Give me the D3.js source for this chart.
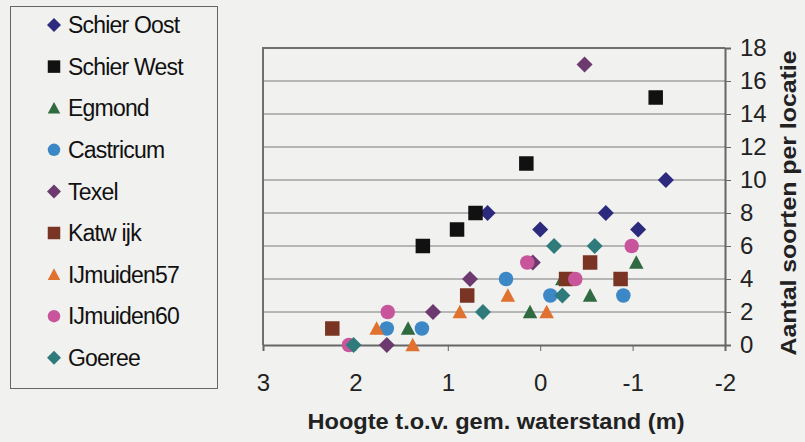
<!DOCTYPE html>
<html>
<head>
<meta charset="utf-8">
<script src="https://cdn.jsdelivr.net/npm/d3@7"></script>
<style>
  body { margin: 0; background: #f1f1f0; }
  svg text { font-family: "Liberation Sans", Arial, Helvetica, sans-serif; }
  .axis path, .axis line { stroke: #666; }
  .axis text { fill: #222; font-size: 24px; }
</style>
</head>
<body>
<div class="chart"></div>
<script>
var svgWidth = 805;
var svgHeight = 442;

// series names, in legend order
var seriesNames = ["Schier Oost", "Schier West", "Egmond", "Castricum", "Texel",
  "Katw ijk", "IJmuiden57", "IJmuiden60", "Goeree"];

// x = hoogte t.o.v. gem. waterstand (m), y = aantal soorten
var schierOostX = [0.57, 0.0, -0.71, -1.06, -1.36];
var schierOostY = [8, 7, 8, 7, 10];
var schierWestX = [1.27, 0.90, 0.70, 0.15, -1.25];
var schierWestY = [6, 7, 8, 11, 15];
var egmondX = [1.43, 0.11, -0.24, -0.54, -1.04];
var egmondY = [1, 2, 4, 3, 5];
var castricumX = [1.66, 1.28, 0.37, -0.11, -0.90];
var castricumY = [1, 1, 4, 3, 3];
var texelX = [1.66, 1.16, 0.76, 0.08, -0.48];
var texelY = [0, 2, 4, 5, 17];
var katwijkX = [2.25, 0.79, -0.28, -0.54, -0.87];
var katwijkY = [1, 3, 4, 5, 4];
var ijmuiden57X = [1.77, 1.38, 0.87, 0.35, -0.07];
var ijmuiden57Y = [1, 0, 2, 3, 2];
var ijmuiden60X = [2.07, 1.65, 0.14, -0.38, -0.99];
var ijmuiden60Y = [0, 2, 5, 4, 6];
var goereeX = [2.02, 0.62, -0.15, -0.24, -0.59];
var goereeY = [0, 2, 6, 3, 6];

var xTicks = [3, 2, 1, 0, -1, -2];
var yTicks = [0, 2, 4, 6, 8, 10, 12, 14, 16, 18];

var shapes = ["diamond", "square", "triangle", "circle", "diamond", "square", "triangle", "circle", "diamond"];
var colors = ["#2b2a7c", "#111111", "#2f6a40", "#3c88c6", "#6c3a6e", "#7a3423", "#e0712e", "#c8559c", "#2f7b7c"];

var xs = [schierOostX, schierWestX, egmondX, castricumX, texelX, katwijkX, ijmuiden57X, ijmuiden60X, goereeX];
var ys = [schierOostY, schierWestY, egmondY, castricumY, texelY, katwijkY, ijmuiden57Y, ijmuiden60Y, goereeY];

var series = seriesNames.map(function(name, i) {
  return {
    name: name, shape: shapes[i], color: colors[i],
    points: xs[i].map(function(x, j) { return { x: x, y: ys[i][j] }; })
  };
});

// marker shapes (Excel style: diamond is a square turned 45 degrees)
function markerPath(shape, s) {
  var h = s / 2;
  var p = d3.path();
  if (shape === "diamond") {
    p.moveTo(0, -h); p.lineTo(h, 0); p.lineTo(0, h); p.lineTo(-h, 0); p.closePath();
  } else if (shape === "square") {
    p.rect(-h, -h, s, s);
  } else if (shape === "triangle") {
    p.moveTo(0, -h); p.lineTo(h, h * 0.85); p.lineTo(-h, h * 0.85); p.closePath();
  } else {
    p.arc(0, 0, h, 0, 2 * Math.PI);
  }
  return p.toString();
}

var svg = d3.select(".chart")
  .append("svg")
  .attr("width", svgWidth)
  .attr("height", svgHeight);

var xScale = d3.scaleLinear().domain([3, -2]).range([263, 725]);
var yScale = d3.scaleLinear().domain([0, 18]).range([345, 48]);

// gridlines
svg.append("g")
  .selectAll("line")
  .data(yTicks.filter(function(d) { return d > 0 && d < 18; }))
  .enter().append("line")
  .attr("x1", xScale(3)).attr("x2", xScale(-2))
  .attr("y1", function(d) { return yScale(d); })
  .attr("y2", function(d) { return yScale(d); })
  .attr("stroke", "#7a7a7a")
  .attr("stroke-width", 1);

// plot border top and left
svg.append("path")
  .attr("d", "M" + xScale(3) + "," + yScale(0) + "V" + yScale(18) + "H" + xScale(-2))
  .attr("fill", "none")
  .attr("stroke", "#707070")
  .attr("stroke-width", 2);

var bottomAxis = d3.axisBottom(xScale).tickValues(xTicks).tickSize(6).tickPadding(23)
  .tickFormat(d3.format("d"));
var rightAxis = d3.axisRight(yScale).tickValues(yTicks).tickSize(6).tickPadding(9);

svg.append("g")
  .attr("class", "axis")
  .attr("transform", "translate(0," + yScale(0) + ")")
  .call(bottomAxis)
  .call(function(g) { g.select(".domain").attr("stroke-width", 2); })
  .selectAll("text").text(function(d) { return d < 0 ? "-" + Math.abs(d) : d; });

svg.append("g")
  .attr("class", "axis")
  .attr("transform", "translate(" + xScale(-2) + ",0)")
  .call(rightAxis)
  .call(function(g) { g.select(".domain").attr("stroke-width", 2); });

// markers
var groups = svg.append("g")
  .selectAll("g.series")
  .data(series)
  .enter().append("g")
  .attr("class", "series");

groups.selectAll("path")
  .data(function(d) { return d.points.map(function(p) { return { p: p, s: d }; }); })
  .enter().append("path")
  .attr("transform", function(d) { return "translate(" + xScale(d.p.x) + "," + yScale(d.p.y) + ")"; })
  .attr("d", function(d) { return markerPath(d.s.shape, d.s.shape === "diamond" ? 16 : 14.5); })
  .attr("fill", function(d) { return d.s.color; });

// axis titles
svg.append("text")
  .attr("x", 496)
  .attr("y", 429)
  .attr("text-anchor", "middle")
  .attr("font-weight", "bold")
  .attr("font-size", "22px")
  .attr("fill", "#222")
  .attr("textLength", 377)
  .attr("lengthAdjust", "spacingAndGlyphs")
  .text("Hoogte t.o.v. gem. waterstand (m)");

svg.append("text")
  .attr("transform", "translate(796,203) rotate(-90)")
  .attr("text-anchor", "middle")
  .attr("font-weight", "bold")
  .attr("font-size", "22px")
  .attr("fill", "#222")
  .attr("textLength", 305)
  .attr("lengthAdjust", "spacingAndGlyphs")
  .text("Aantal soorten per locatie");

// legend
var legend = svg.append("g");
legend.append("rect")
  .attr("x", 10.5).attr("y", 6.5)
  .attr("width", 207).attr("height", 382)
  .attr("fill", "none")
  .attr("stroke", "#666");

var items = legend.selectAll("g.item")
  .data(series)
  .enter().append("g")
  .attr("class", "item")
  .attr("transform", function(d, i) { return "translate(54," + (25 + i * 41.6) + ")"; });

items.append("path")
  .attr("d", function(d) { return markerPath(d.shape, d.shape === "diamond" ? 14 : 12.5); })
  .attr("fill", function(d) { return d.color; });

items.append("text")
  .attr("x", 14)
  .attr("dy", "0.36em")
  .attr("font-size", "23px")
  .attr("letter-spacing", "-0.8px")
  .attr("fill", "#111")
  .text(function(d) { return d.name; });
</script>
</body>
</html>
